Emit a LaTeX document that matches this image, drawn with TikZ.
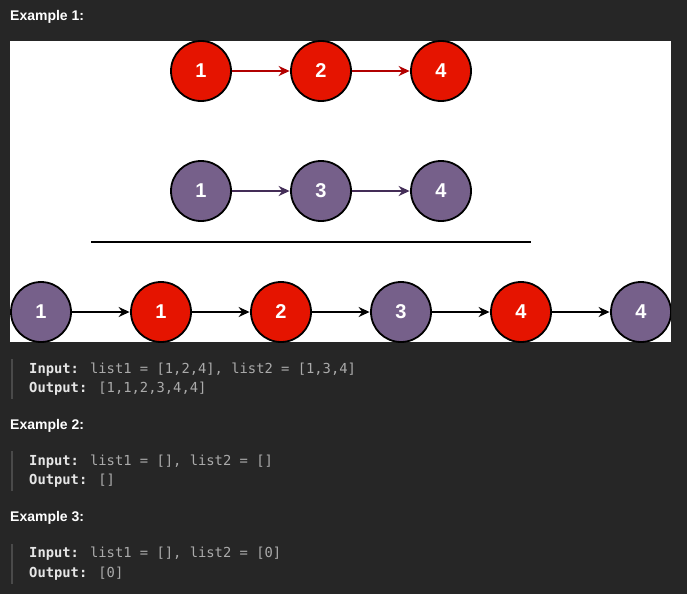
\documentclass[tikz,border=0pt]{standalone}
\usepackage{fontspec}
\setmainfont{Liberation Sans}
\newfontfamily\codefont{DejaVu Sans Mono}
\usetikzlibrary{arrows.meta}
\definecolor{bg}{HTML}{262626}
\definecolor{redfill}{HTML}{E51400}
\definecolor{purfill}{HTML}{76608A}
\definecolor{redline}{HTML}{B20000}
\definecolor{purline}{HTML}{432D57}
\definecolor{labtxt}{HTML}{E6E6E6}
\definecolor{valtxt}{HTML}{ABABAB}
\definecolor{barc}{HTML}{4A4A4A}
\tikzset{
  lnode/.style={circle, draw=black, line width=1.8pt, minimum size=60pt, inner sep=0pt,
    text=white, font=\fontsize{20}{20}\selectfont\bfseries},
  rnode/.style={lnode, fill=redfill},
  pnode/.style={lnode, fill=purfill},
  arr/.style={-{Stealth[length=11pt,width=10pt]}, line width=1.5pt, shorten >=0.5pt},
  head/.style={anchor=west, text=white, font=\fontsize{14}{14}\selectfont\bfseries, inner sep=0pt},
  code/.style={anchor=west, inner sep=0pt, font=\codefont\fontsize{13.8}{14}\selectfont},
}
\newcommand{\lab}[1]{\textcolor{labtxt}{\bfseries #1}}
\newcommand{\val}[1]{\textcolor{valtxt}{#1}}
\begin{document}
\begin{tikzpicture}[x=1pt,y=-1pt]
\fill[bg] (0,0) rectangle (687,594);
\useasboundingbox (0,0) rectangle (687,594);
\fill[white] (10,41) rectangle (671,342);
\node[head] (h1) at (10,17) {Example 1:};
% top row
\node[rnode] (a1) at (201,71) {1};
\node[rnode] (a2) at (321,71) {2};
\node[rnode] (a3) at (441,71) {4};
\draw[arr, redline] (a1) -- (a2);
\draw[arr, redline] (a2) -- (a3);
% middle row
\node[pnode] (b1) at (201,191) {1};
\node[pnode] (b2) at (321,191) {3};
\node[pnode] (b3) at (441,191) {4};
\draw[arr, purline] (b1) -- (b2);
\draw[arr, purline] (b2) -- (b3);
% separator
\coordinate (s1) at (91,242);
\coordinate (s2) at (531,242);
\draw[line width=1.8pt, black] (s1) -- (s2);
% bottom row
\begin{scope}
\clip (10,41) rectangle (671,342);
\node[pnode] (c1) at (41,312) {1};
\node[rnode] (c2) at (161,312) {1};
\node[rnode] (c3) at (281,312) {2};
\node[pnode] (c4) at (401,312) {3};
\node[rnode] (c5) at (521,312) {4};
\node[pnode] (c6) at (641,312) {4};
\draw[arr, black] (c1) -- (c2);
\draw[arr, black] (c2) -- (c3);
\draw[arr, black] (c3) -- (c4);
\draw[arr, black] (c4) -- (c5);
\draw[arr, black] (c5) -- (c6);
\end{scope}
% example 1 code
\coordinate (bar1a) at (11.5,359);
\coordinate (bar1b) at (11.5,399);
\draw[barc, line width=2pt] (bar1a) -- (bar1b);
\node[code] (i1) at (29,370) {\lab{Input:} \val{list1 = [1,2,4], list2 = [1,3,4]}};
\node[code] (o1) at (29,389) {\lab{Output:} \val{[1,1,2,3,4,4]}};
% example 2
\node[head] (h2) at (10,426) {Example 2:};
\coordinate (bar2a) at (11.5,451);
\coordinate (bar2b) at (11.5,491);
\draw[barc, line width=2pt] (bar2a) -- (bar2b);
\node[code] (i2) at (29,462) {\lab{Input:} \val{list1 = [], list2 = []}};
\node[code] (o2) at (29,481) {\lab{Output:} \val{[]}};
% example 3
\node[head] (h3) at (10,518) {Example 3:};
\coordinate (bar3a) at (11.5,544);
\coordinate (bar3b) at (11.5,584);
\draw[barc, line width=2pt] (bar3a) -- (bar3b);
\node[code] (i3) at (29,554) {\lab{Input:} \val{list1 = [], list2 = [0]}};
\node[code] (o3) at (29,574) {\lab{Output:} \val{[0]}};
\end{tikzpicture}
\end{document}
